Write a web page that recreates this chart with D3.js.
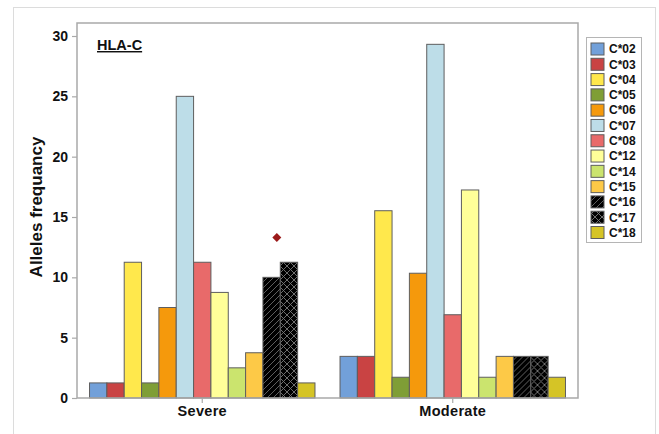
<!DOCTYPE html>
<html>
<head>
<meta charset="utf-8">
<script src="https://cdn.jsdelivr.net/npm/d3@7"></script>
<style>
  html, body { margin: 0; padding: 0; background: #fff; }
  svg { display: block; font-family: "Liberation Sans", Arial, sans-serif; }
</style>
</head>
<body>
<svg id="chart" width="659" height="434"></svg>
<script>
// HLA-C allele frequencies (%) by disease severity
const groups = ["Severe", "Moderate"];
const alleles = ["C*02", "C*03", "C*04", "C*05", "C*06", "C*07", "C*08", "C*12", "C*14", "C*15", "C*16", "C*17", "C*18"];
const severe = [1.25, 1.25, 11.25, 1.25, 7.5, 25.0, 11.25, 8.75, 2.5, 3.75, 10.0, 11.25, 1.25];
const moderate = [3.45, 3.45, 15.52, 1.72, 10.34, 29.31, 6.9, 17.24, 1.72, 3.45, 3.45, 3.45, 1.72];
const yTicks = [0, 5, 10, 15, 20, 25, 30];
const colors = ["#72a0d9", "#c94343", "#ffe84c", "#7f9e36", "#f5990c", "#bddde8", "#e86a6a", "#ffff99", "#cbe46e", "#fdc947", "#000000", "#000000", "#d5c426"];
// significance marker above C*16 in the Severe group
const marker = { group: "Severe", allele: "C*16", value: 13.3 };

const series = { Severe: severe, Moderate: moderate };

const svg = d3.select("#chart");
const plotLeft = 77, plotRight = 578, plotTop = 23, plotBottom = 398;

// outer figure frame
svg.append("rect")
  .attr("x", 13.5).attr("y", 7.5).attr("width", 642).attr("height", 440)
  .attr("fill", "none").attr("stroke", "#dcdcdc").attr("stroke-width", 1);

// patterns for C*16 (diagonal) and C*17 (cross-hatch)
const defs = svg.append("defs");
const diag = defs.append("pattern").attr("id", "diag")
  .attr("patternUnits", "userSpaceOnUse").attr("width", 6).attr("height", 6);
diag.append("rect").attr("width", 6).attr("height", 6).attr("fill", "#000");
diag.append("path").attr("d", "M-1,7 L7,-1 M-4,4 L4,-4 M2,10 L10,2")
  .attr("stroke", "#6a6a6a").attr("stroke-width", 0.9);
const cross = defs.append("pattern").attr("id", "cross")
  .attr("patternUnits", "userSpaceOnUse").attr("width", 7).attr("height", 7);
cross.append("rect").attr("width", 7).attr("height", 7).attr("fill", "#000");
cross.append("path").attr("d", "M0,0 L7,7 M7,0 L0,7")
  .attr("stroke", "#7a7a7a").attr("stroke-width", 0.9);

const fillFor = (a, i) => a === "C*16" ? "url(#diag)" : a === "C*17" ? "url(#cross)" : colors[i];

const y = d3.scaleLinear().domain([0, 30]).range([plotBottom, 36]);
const x0 = d3.scaleBand().domain(groups).range([plotLeft, plotRight]).padding(0);
const bw = x0.bandwidth();
const x1 = d3.scaleBand().domain(alleles).range([bw * 0.05, bw * 0.95]).padding(0);

// bars
groups.forEach(g => {
  const gg = svg.append("g").attr("transform", `translate(${x0(g)},0)`);
  gg.selectAll("rect").data(series[g].map((v, i) => ({ a: alleles[i], v, i })))
    .join("rect")
    .attr("x", d => x1(d.a))
    .attr("y", d => y(d.v))
    .attr("width", x1.bandwidth())
    .attr("height", d => y(0) - y(d.v))
    .attr("fill", d => fillFor(d.a, d.i))
    .attr("stroke", "#5e5e5e").attr("stroke-width", 1);
});

// plot frame
svg.append("rect")
  .attr("x", plotLeft).attr("y", plotTop).attr("width", plotRight - plotLeft).attr("height", plotBottom - plotTop)
  .attr("fill", "none").attr("stroke", "#a9a9a9").attr("stroke-width", 1.5);

// y axis
const yAxis = svg.append("g").attr("transform", `translate(${plotLeft},0)`)
  .call(d3.axisLeft(y).tickValues(yTicks).tickSize(5).tickPadding(4));
yAxis.select(".domain").remove();
yAxis.selectAll("line").attr("stroke", "#a9a9a9").attr("stroke-width", 1.2);
yAxis.selectAll("text").attr("font-size", 14).attr("font-weight", "bold").attr("fill", "#111")
  .attr("font-family", "Liberation Sans, Arial, sans-serif");

// x axis
const xAxis = svg.append("g").attr("transform", `translate(0,${plotBottom})`)
  .call(d3.axisBottom(x0).tickSize(5).tickPadding(3));
xAxis.select(".domain").remove();
xAxis.selectAll("line").attr("stroke", "#a9a9a9").attr("stroke-width", 1.2);
xAxis.selectAll("text").attr("font-size", 14.5).attr("font-weight", "bold").attr("fill", "#111")
  .attr("letter-spacing", 0.3)
  .attr("font-family", "Liberation Sans, Arial, sans-serif");

// y label
svg.append("text")
  .attr("transform", `translate(42,207) rotate(-90)`)
  .attr("text-anchor", "middle")
  .attr("font-size", 17).attr("font-weight", "bold").attr("fill", "#111")
  .text("Alleles frequancy");

// panel title
svg.append("text")
  .attr("x", 97).attr("y", 50)
  .attr("font-size", 14.5).attr("font-weight", "bold").attr("fill", "#111")
  .attr("text-decoration", "underline")
  .text("HLA-C");

// marker: a square turned 45 degrees
const mx = x0(marker.group) + x1(marker.allele) + x1.bandwidth() * 0.8;
svg.append("path")
  .attr("d", d3.symbol(d3.symbolSquare, 40)())
  .attr("transform", `translate(${mx},${y(marker.value)}) rotate(45)`)
  .attr("fill", "#9b1a1a");

// legend
const lg = svg.append("g");
lg.append("rect")
  .attr("x", 586.5).attr("y", 37.5).attr("width", 55).attr("height", 205)
  .attr("fill", "#fff").attr("stroke", "#b5b5b5").attr("stroke-width", 1);
const ly = d3.scalePoint().domain(alleles).range([49, 232.5]);
alleles.forEach((a, i) => {
  lg.append("rect")
    .attr("x", 591).attr("y", ly(a) - 6).attr("width", 13).attr("height", 12)
    .attr("fill", fillFor(a, i)).attr("stroke", "#5e5e5e").attr("stroke-width", 1);
  lg.append("text")
    .attr("x", 609).attr("y", ly(a)).attr("dy", "0.36em")
    .attr("font-size", 12).attr("font-weight", "bold").attr("fill", "#111")
    .text(a);
});
</script>
</body>
</html>
